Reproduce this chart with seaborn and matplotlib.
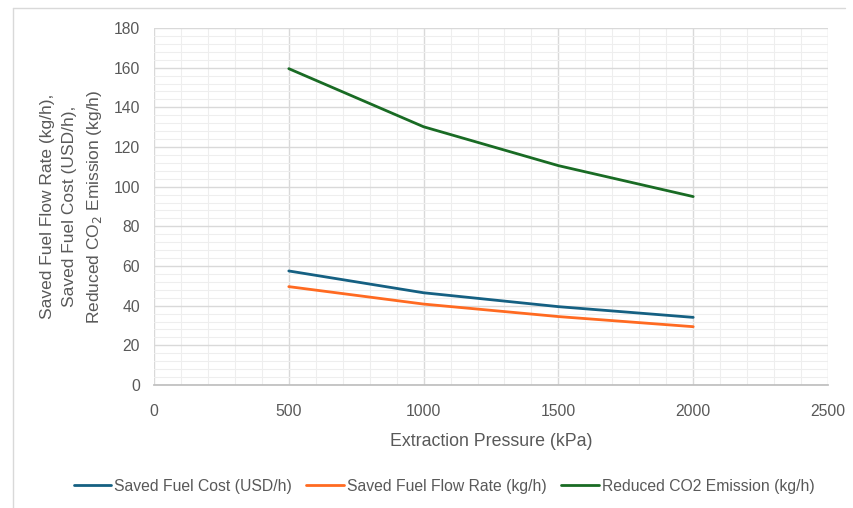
import matplotlib
matplotlib.use("Agg")
import matplotlib.pyplot as plt
import seaborn as sns
import pandas as pd
from matplotlib.ticker import MultipleLocator
from matplotlib.lines import Line2D

pressure = [500, 1000, 1500, 2000]
fuel_cost = [57.5, 46.5, 39.5, 34.1]
fuel_flow = [49.6, 40.8, 34.5, 29.4]
co2 = [159.5, 130.2, 110.6, 95.0]
series_names = ["Saved Fuel Cost (USD/h)", "Saved Fuel Flow Rate (kg/h)", "Reduced CO2 Emission (kg/h)"]
colors = ["#156082", "#FF6A21", "#196B24"]

rows = []
for name, vals in zip(series_names, [fuel_cost, fuel_flow, co2]):
    for p, v in zip(pressure, vals):
        rows.append({"Pressure": p, "Value": v, "Series": name})
df = pd.DataFrame(rows)

sns.set_theme(style="white")
plt.rcParams['font.family'] = ['Liberation Sans', 'DejaVu Sans']

W, H = 854, 508
fig = plt.figure(figsize=(W / 100, H / 100), dpi=100)
# outer chart frame (left and top edges visible in reference)
fig.lines.append(Line2D([13 / W, 13 / W], [0, 1 - 8 / H], transform=fig.transFigure, color="#d9d9d9", lw=1))
fig.lines.append(Line2D([13 / W, 845 / W], [1 - 8 / H, 1 - 8 / H], transform=fig.transFigure, color="#d9d9d9", lw=1))

ax = fig.add_axes([154 / W, (H - 385) / H, (828 - 154) / W, (385 - 28) / H])

sns.lineplot(data=df, x="Pressure", y="Value", hue="Series", hue_order=series_names,
             palette=dict(zip(series_names, colors)), linewidth=2, ax=ax, legend=True)

ax.set_xlim(0, 2500)
ax.set_ylim(0, 180)
ax.xaxis.set_major_locator(MultipleLocator(500))
ax.xaxis.set_minor_locator(MultipleLocator(100))
ax.yaxis.set_major_locator(MultipleLocator(20))
ax.yaxis.set_minor_locator(MultipleLocator(4))
ax.grid(which="major", color="#d9d9d9", linewidth=1)
ax.grid(which="minor", color="#eeeeee", linewidth=0.8)
ax.set_axisbelow(True)
for s in ["top", "right", "left"]:
    ax.spines[s].set_visible(False)
ax.spines["bottom"].set_color("#bfbfbf")
ax.tick_params(axis="both", which="both", length=0, labelsize=11.3, labelcolor="#595959")
ax.tick_params(axis="x", pad=14)
ax.tick_params(axis="y", pad=10)

ax.set_xlabel("Extraction Pressure (kPa)", fontsize=12.8, color="#595959", labelpad=10)
ax.set_ylabel("Saved Fuel Flow Rate (kg/h),\nSaved Fuel Cost (USD/h),\nReduced CO$_2$ Emission (kg/h)",
              fontsize=12.5, color="#595959", linespacing=1.55, va="center")
ax.yaxis.set_label_coords((72 - 154) / (828 - 154), 0.5)

handles, labels = ax.get_legend_handles_labels()
ax.get_legend().remove()
fig.legend(handles, labels, loc="center", bbox_to_anchor=(444 / W, 1 - 486 / H), ncol=3,
           frameon=False, fontsize=11.3, handlelength=2.4, handletextpad=0.2, columnspacing=0.9,
           labelcolor="#595959")

fig.savefig("out.png", dpi=100)
